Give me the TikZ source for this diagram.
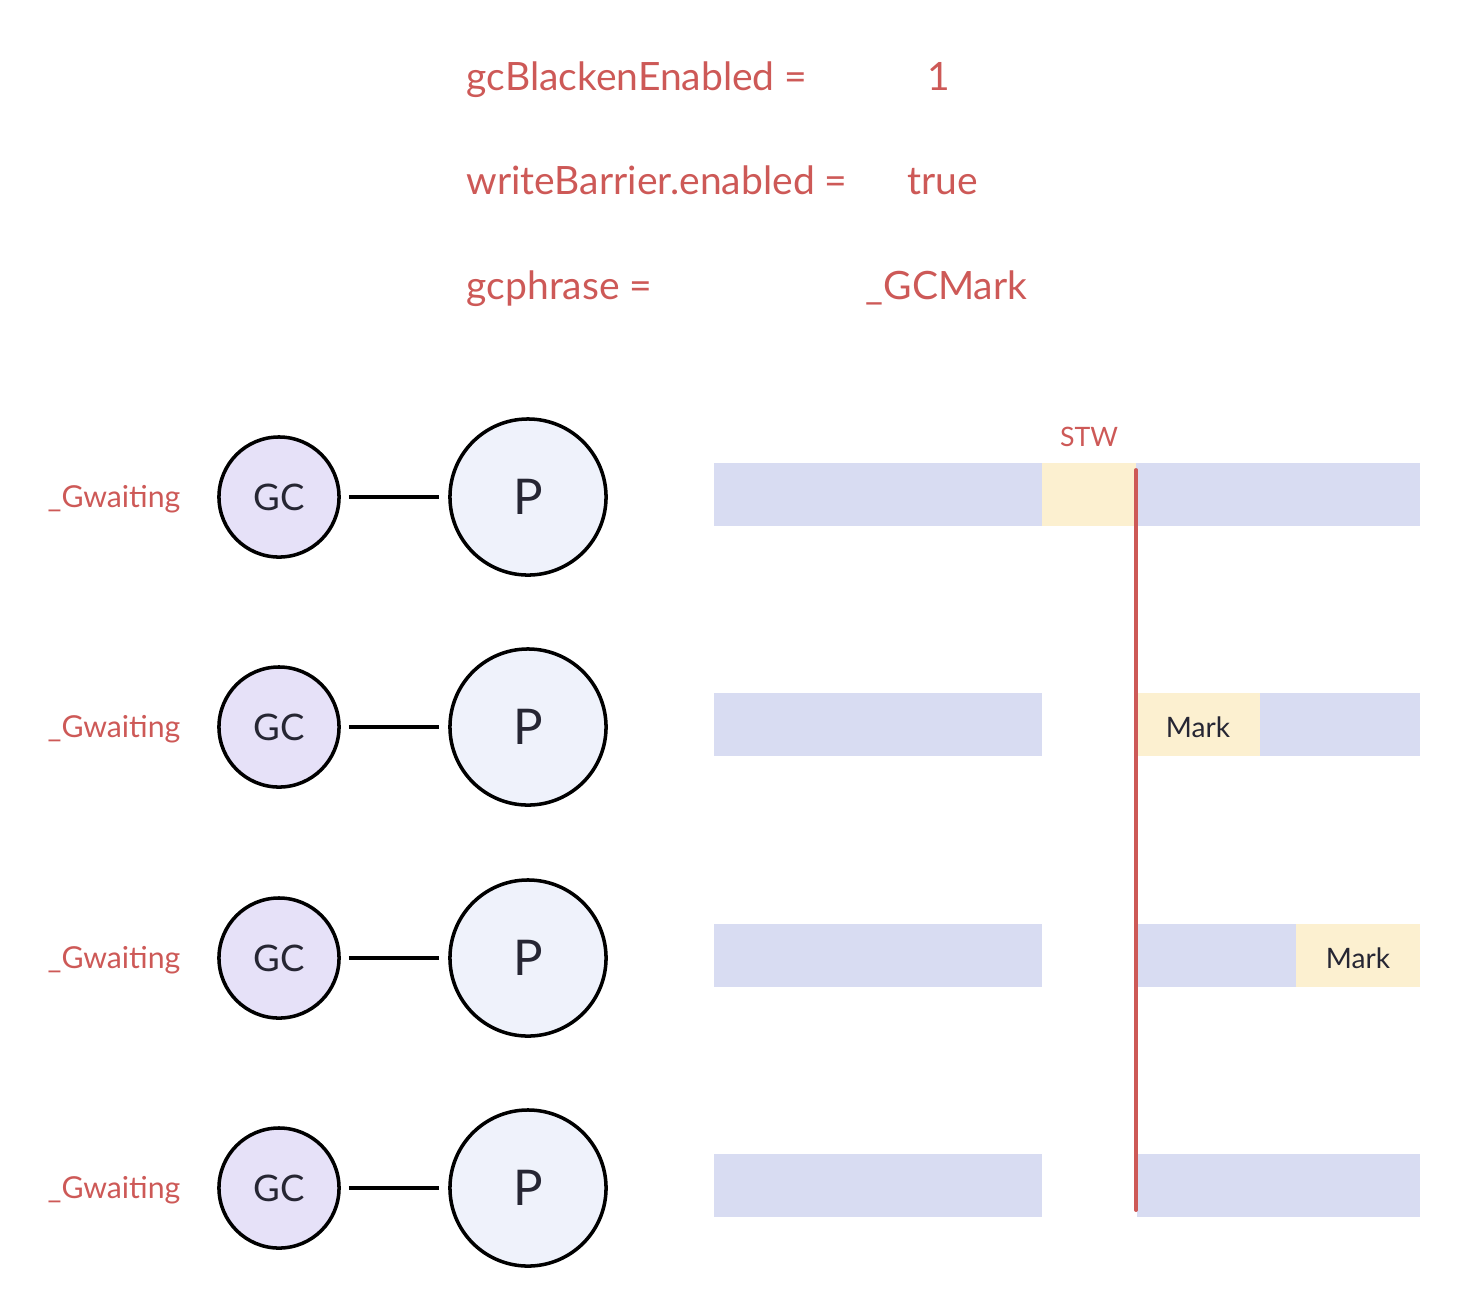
\documentclass[tikz,border=0pt]{standalone}
\usepackage{fontspec}
\setmainfont{Lato}
\usepackage{tikz}
\usetikzlibrary{positioning}

\definecolor{redtxt}{HTML}{CD5957}
\definecolor{gcfill}{HTML}{E6E1F8}
\definecolor{pfill}{HTML}{EFF2FB}
\definecolor{barblue}{HTML}{D8DCF2}
\definecolor{baryel}{HTML}{FCF0D0}
\definecolor{darktxt}{HTML}{262633}

\tikzset{
  gcnode/.style={circle, draw=black, line width=1pt, fill=gcfill, minimum size=1.2cm, inner sep=0pt, text=darktxt, font=\fontsize{10.4}{10.4}\selectfont},
  pnode/.style={circle, draw=black, line width=1pt, fill=pfill, minimum size=1.56cm, inner sep=0pt, text=darktxt, font=\fontsize{14}{14}\selectfont},
  state/.style={text=redtxt, font=\fontsize{8.6}{8.6}\selectfont},
  varlabel/.style={text=redtxt, anchor=base west, inner sep=0pt, font=\fontsize{11.1}{11.1}\selectfont},
  marklabel/.style={text=darktxt, font=\fontsize{8}{8}\selectfont}
}

\begin{document}
\begin{tikzpicture}[x=0.01cm, y=-0.01cm]
      \useasboundingbox (0,0) rectangle (1470,1314);

      %draw variables
      \node[varlabel] (v1) at (466,90) {gcBlackenEnabled =};
      \node[varlabel] (v2) at (466,194) {writeBarrier.enabled =};
      \node[varlabel] (v3) at (466,299) {gcphrase =};
      \node[varlabel] (v1val) at (927,90) {1};
      \node[varlabel] (v2val) at (907,194) {true};
      \node[varlabel] (v3val) at (865,299) {\_GCMark};

      %draw GC -- P pairs
      \foreach \i/\y in {1/497, 2/727, 3/958, 4/1188} {
        \node[state] (st\i) at (114,\y+2) {\_Gwaiting};
        \node[gcnode] (gc\i) at (279,\y) {GC};
        \node[pnode] (p\i) at (528,\y) {P};
        \draw[line width=1pt] ([xshift=0.08cm]gc\i.east) -- ([xshift=-0.09cm]p\i.west);
        \fill[barblue] (714,\y-34) rectangle (1042,\y+29); %left bar
      }

      %draw right bars
      \fill[baryel] (1042,463) rectangle (1136,526);
      \fill[barblue] (1136,463) rectangle (1420,526);
      \fill[baryel] (1137,693) rectangle (1260,756);
      \fill[barblue] (1260,693) rectangle (1420,756);
      \fill[barblue] (1137,924) rectangle (1296,987);
      \fill[baryel] (1296,924) rectangle (1420,987);
      \fill[barblue] (1137,1154) rectangle (1420,1217);

      %draw labels
      \node[text=redtxt, font=\fontsize{7.6}{7.6}\selectfont] (stw) at (1089,437) {STW};
      \node[marklabel] (mark1) at (1198,727) {Mark};
      \node[marklabel] (mark2) at (1358,958) {Mark};

      %draw STW line
      \coordinate (ltop) at (1136,470);
      \coordinate (lbot) at (1136,1210);
      \draw[redtxt, line width=1.1pt, line cap=round] (ltop) -- (lbot);
    \end{tikzpicture}
\end{document}
